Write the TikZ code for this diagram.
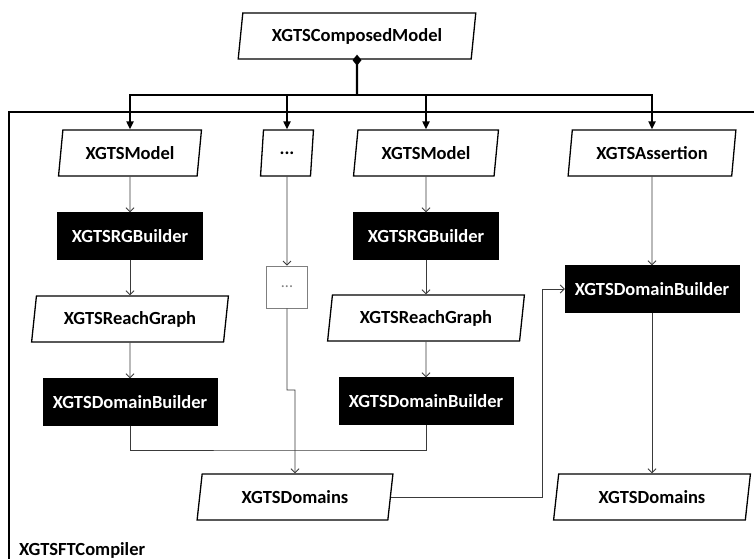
\documentclass[tikz,border=0pt]{standalone}
\usepackage{fontspec}
\setmainfont{Carlito}
\usetikzlibrary{arrows.meta, shapes.geometric, calc}
\definecolor{ink}{HTML}{000000}
\definecolor{muted}{HTML}{7F7F7F}
\definecolor{wirecol}{HTML}{3A3A3A}
\tikzset{
  font=\bfseries\fontsize{18.5}{21}\selectfont,
  >={Straight Barb[length=4pt, width=8pt]},
  %
  data/.style={
    trapezium, trapezium left angle=80, trapezium right angle=100,
    trapezium stretches=true, draw=ink, line width=1.3pt, fill=white,
    minimum height=46pt, inner sep=2pt, text=ink,
  },
  proc/.style={draw=ink, fill=ink, text=white, minimum height=47pt, inner sep=2pt},
  stub/.style={draw=muted, line width=0.7pt, fill=white, text=muted,
               minimum width=41pt, minimum height=42pt,
               font=\mdseries\fontsize{16}{19}\selectfont},
  %
  wire/.style={draw=wirecol, line width=0.9pt},
  flow/.style={wire, ->},
  bus/.style={draw=ink, line width=2.3pt, -{Triangle[length=8pt, width=7pt]}},
  frame/.style={draw=ink, line width=1.4pt},
}

\begin{document}
\begin{tikzpicture}[x=1pt, y=-1pt]
  \useasboundingbox (0,0) rectangle (754,559);

  % --- compiler frame ---------------------------------------------------
  \draw[frame] (754,112) -| (9,559);
  \node[anchor=base west, inner sep=0pt] (compiler) at (19,555) {XGTSFTCompiler};

  % --- composed model and bus -------------------------------------------
  \node[data, minimum width=238pt] (comp) at (357,36) {XGTSComposedModel};
  \coordinate (hub) at (357,95);

  \node[data, minimum width=143pt] (m1)     at (130,153) {XGTSModel};
  \node[data, minimum width=53pt]  (dots)   at (287,153) {...};
  \node[data, minimum width=145pt] (m2)     at (426,153) {XGTSModel};
  \node[data, minimum width=168pt] (assert) at (652,153) {XGTSAssertion};

  \draw[line width=2.3pt, {Diamond[length=11pt, width=9pt]}-]
    ([yshift=5pt]comp.south) -- (hub);
  \foreach \n in {m1, dots, m2, assert}
    \draw[bus] (hub) -| (\n.north);

  % --- first model ------------------------------------------------------
  \node[proc, minimum width=145pt] (rg1)  at (130,236) {XGTSRGBuilder};
  \node[data, minimum width=197pt] (rgr1) at (130,319) {XGTSReachGraph};
  \node[proc, minimum width=174pt] (db1)  at (130,402) {XGTSDomainBuilder};

  % --- second model -----------------------------------------------------
  \node[proc, minimum width=145pt] (rg2)  at (426,236) {XGTSRGBuilder};
  \node[data, minimum width=197pt] (rgr2) at (426,318) {XGTSReachGraph};
  \node[proc, minimum width=174pt] (db2)  at (426,401) {XGTSDomainBuilder};

  % --- the rest ---------------------------------------------------------
  \node[stub] (more) at (287,287) {...};
  \node[data, minimum width=196pt] (doms1) at (295,497) {XGTSDomains};
  \node[proc, minimum width=174pt] (dbR)   at (652,289) {XGTSDomainBuilder};
  \node[data, minimum width=197pt] (doms2) at (652,497) {XGTSDomains};

  \coordinate (jog)  at (295,390);
  \coordinate (join) at (295,450);

  \draw[flow] (m1) -- (rg1);
  \draw[flow] (rg1) -- (rgr1);
  \draw[flow] (rgr1) -- (db1);
  \draw[flow] (m2) -- (rg2);
  \draw[flow] (rg2) -- (rgr2);
  \draw[flow] (rgr2) -- (db2);
  \draw[flow] (dots) -- (more);
  \draw[wire] (db1.south) |- (join) -| (db2.south);
  \draw[flow] (more.south) |- (jog) -- (doms1.north);
  \draw[flow] (doms1.east) -| ([xshift=-22pt]dbR.west) -- (dbR.west);
  \draw[flow] (assert) -- (dbR);
  \draw[flow] (dbR) -- (doms2);

\end{tikzpicture}
\end{document}
